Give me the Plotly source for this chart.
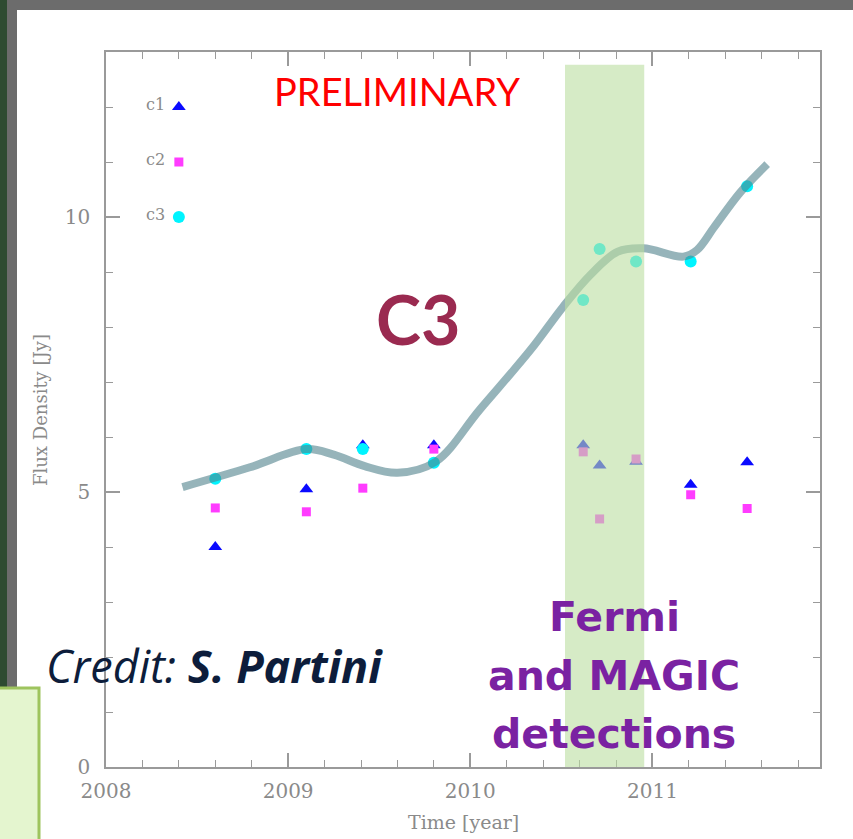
import plotly.graph_objects as go

W, H = 853, 839
# plot area in pixels
PL, PR, PT, PB = 106, 820, 52, 767

# ---------------- data ----------------
times = [2008.60, 2009.10, 2009.41, 2009.80, 2010.62, 2010.71, 2010.91, 2011.21, 2011.52]
c1 = [4.00, 5.05, 5.85, 5.85, 5.85, 5.48, 5.55, 5.13, 5.54]
c2 = [4.71, 4.64, 5.07, 5.78, 5.73, 4.51, 5.60, 4.95, 4.70]
c3 = [5.24, 5.78, 5.78, 5.53, 8.49, 9.42, 9.19, 9.19, 10.56]

curve_x = [2008.42, 2008.79, 2009.10, 2009.25, 2009.42, 2009.60, 2009.81, 2010.05,
           2010.33, 2010.51, 2010.66, 2010.81, 2010.95, 2011.17, 2011.245, 2011.34,
           2011.48, 2011.63]
curve_y = [5.09, 5.45, 5.78, 5.68, 5.47, 5.35, 5.55, 6.49,
           7.58, 8.37, 8.95, 9.37, 9.43, 9.28, 9.40, 9.82,
           10.44, 10.96]

band_x = [2010.52, 2010.955]
band_top = 12.77

legend_names = ["c1", "c2", "c3"]
legend_x = 2008.40
legend_text_x = 2008.27
legend_y = [12.0, 11.0, 10.0]

x_range = [2008.0, 2011.92]
y_range = [0.0, 13.0]
x_ticks = [2008, 2009, 2010, 2011]
y_ticks = [0, 5, 10]

detection_lines = ["Fermi", "and MAGIC", "detections"]

BLUE, MAGENTA, CYAN = "#0a0aff", "#ff3cff", "#00f4ff"
symbols = ["triangle-up", "square", "circle"]
colors = [BLUE, MAGENTA, CYAN]
sizes = [12, 9, 12]


def px(x):
    return (x - PL) / (PR - PL)


def py(y):
    return (PB - y) / (PB - PT)


fig = go.Figure()

for vals, sym, col, sz, name in zip([c1, c2, c3], symbols, colors, sizes, legend_names):
    fig.add_trace(go.Scatter(x=times, y=vals, mode="markers", name=name,
                             marker=dict(symbol=sym, color=col, size=sz, line=dict(width=0)),
                             showlegend=False, hoverinfo="skip"))

fig.add_trace(go.Scatter(x=curve_x, y=curve_y, mode="lines",
                         line=dict(shape="spline", smoothing=1.0, width=8,
                                   color="rgba(80,130,140,0.6)"),
                         showlegend=False, hoverinfo="skip"))

# in-plot legend markers
for ly, sym, col, sz in zip(legend_y, symbols, colors, sizes):
    fig.add_trace(go.Scatter(x=[legend_x], y=[ly], mode="markers",
                             marker=dict(symbol=sym, color=col, size=sz, line=dict(width=0)),
                             showlegend=False, hoverinfo="skip"))

shapes = [
    # white slide panel with ragged grey edge
    dict(type="rect", xref="paper", yref="paper", layer="below",
         x0=px(12), x1=px(880), y0=py(5), y1=py(860),
         fillcolor="white", line=dict(color="#6c6c6c", width=10)),
    # green detection band
    dict(type="rect", xref="x", yref="y", layer="above",
         x0=band_x[0], x1=band_x[1], y0=y_range[0], y1=band_top,
         fillcolor="rgba(187,222,160,0.6)", line=dict(width=0)),
    # light green box bottom-left
    dict(type="rect", xref="paper", yref="paper", layer="above",
         x0=px(-10), x1=px(39), y0=py(688), y1=py(860),
         fillcolor="#e4f5cf", line=dict(color="#9ec45e", width=3)),
]

serif = "DejaVu Serif"
grey = "#8a8a8a"


def note(x, y, text, font, **kw):
    d = dict(x=px(x), y=py(y), xref="paper", yref="paper", text=text,
             showarrow=False, xanchor="center", yanchor="middle", font=font)
    d.update(kw)
    return d


annotations = []
for name, ly in zip(legend_names, legend_y):
    annotations.append(dict(x=legend_text_x, y=ly, xref="x", yref="y", text=name,
                            xanchor="center", yanchor="middle",
                            showarrow=False, font=dict(family=serif, size=16, color=grey),
                            yshift=3))

annotations += [
    note(463, 822, "Time [year]", dict(family=serif, size=19, color=grey)),
    note(40, 410, "Flux Density [Jy]", dict(family=serif, size=18, color=grey), textangle=-90),
    note(397, 91, "PRELIMINARY", dict(family="Lato", size=38, color="#ff0000")),
    note(418, 318, "<b>C3</b>", dict(family="Lato", size=68, color="#9a2a50")),
    note(44, 665, "<i>Credit: <b>S. Partini</b></i>",
         dict(family="Open Sans", size=45, color="#0d1d3b"), xanchor="left"),
]
for line, yy in zip(detection_lines, [617, 676, 734]):
    annotations.append(note(614, yy, "<b>%s</b>" % line,
                            dict(family="DejaVu Sans", size=41, color="#7a22a2")))

axis_common = dict(showline=True, linecolor="#9a9a9a", linewidth=1.5, mirror="ticks",
                   ticks="inside", tickcolor="#9a9a9a", tickwidth=1.5, ticklen=14,
                   showgrid=False, zeroline=False,
                   tickfont=dict(family=serif, size=20, color=grey))

fig.update_xaxes(range=x_range, tickvals=x_ticks, ticktext=[str(t) for t in x_ticks],
                 minor=dict(ticks="inside", dtick=0.2, tick0=2008, ticklen=7,
                            tickcolor="#9a9a9a", tickwidth=1.2, showgrid=False),
                 ticklabelstandoff=5, **axis_common)
fig.update_yaxes(range=y_range, tickvals=y_ticks, ticktext=[str(t) for t in y_ticks],
                 minor=dict(ticks="inside", dtick=1, tick0=0, ticklen=7,
                            tickcolor="#9a9a9a", tickwidth=1.2, showgrid=False),
                 ticklabelstandoff=10, **axis_common)

fig.update_layout(width=W, height=H, autosize=False,
                  margin=dict(l=PL, r=W - PR, t=PT, b=H - PB, pad=0),
                  paper_bgcolor="#2e4b31", plot_bgcolor="rgba(0,0,0,0)",
                  shapes=shapes, annotations=annotations, showlegend=False)

fig.write_html("out.html")
